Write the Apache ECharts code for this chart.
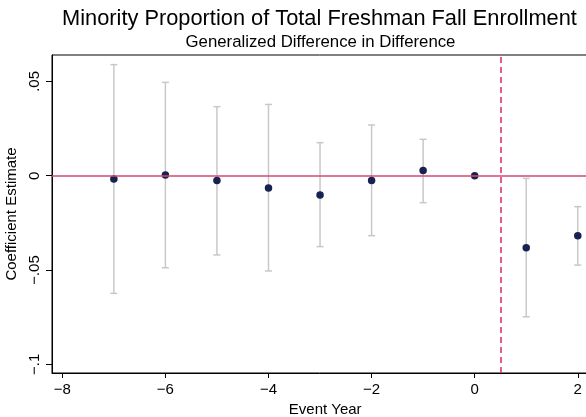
<!DOCTYPE html>
<html>
<head>
<meta charset="utf-8">
<script src="https://cdn.jsdelivr.net/npm/echarts@6/dist/echarts.min.js"></script>
<style>
html,body{margin:0;padding:0;background:#fff;}
#chart{width:586px;height:417px;}
</style>
</head>
<body>
<div id="chart"></div>
<script>
// ---- data ----
var eventYears = [-7, -6, -5, -4, -3, -2, -1, 0, 1, 2];
var coefEstimate = [-0.0018, 0.0004, -0.0026, -0.0065, -0.0102, -0.0025, 0.0027, 0.0, -0.0382, -0.0318];
var ciLower = [-0.0624, -0.0488, -0.0420, -0.0505, -0.0376, -0.0318, -0.0143, null, -0.0748, -0.0474];
var ciUpper = [0.0589, 0.0495, 0.0366, 0.0378, 0.0175, 0.0269, 0.0193, null, -0.0014, -0.0164];
var xTickValues = [-8, -6, -4, -2, 0, 2];
var yTickValues = [-0.1, -0.05, 0, 0.05];
var treatmentLine = 0.5;
var zeroLine = 0;

var titleText = 'Minority Proportion of Total Freshman Fall Enrollment';
var subtitleText = 'Generalized Difference in Difference';
var xName = 'Event Year';
var yName = 'Coefficient Estimate';

var FONT = '"Liberation Sans", Arial, Helvetica, sans-serif';

var pointData = eventYears.map(function (x, i) { return [x, coefEstimate[i]]; });
var ciData = [];
eventYears.forEach(function (x, i) {
  if (ciLower[i] !== null && ciUpper[i] !== null) ciData.push([x, ciLower[i], ciUpper[i]]);
});

function fmtX(v) { return v < 0 ? '\u2212' + Math.abs(v) : String(v); }
function fmtY(v) {
  if (v === 0) return '0';
  var s = String(Math.abs(v)).replace(/^0/, '');
  return (v < 0 ? '\u2212' : '') + s;
}

var chart = echarts.init(document.getElementById('chart'), null, {renderer: 'canvas'});
var option = {
  backgroundColor: '#ffffff',
  animation: false,
  title: [
    {text: titleText, left: 314.5, top: 2.5, textAlign: 'center',
     textStyle: {fontFamily: FONT, fontSize: 21.8, fontWeight: 'normal', color: '#000'}},
    {text: subtitleText, left: 315.5, top: 29, textAlign: 'center',
     textStyle: {fontFamily: FONT, fontSize: 16.8, fontWeight: 'normal', color: '#000'}}
  ],
  grid: {left: 52, top: 55, bottom: 44, right: -12.4, show: true,
         borderColor: '#000', borderWidth: 1, backgroundColor: '#fff',
         containLabel: false, outerBoundsMode: 'none'},
  xAxis: {
    type: 'value', min: -8.2, max: 2.4,
    name: xName, nameLocation: 'middle', nameGap: 29,
    nameTextStyle: {fontFamily: FONT, fontSize: 15, color: '#000'},
    axisLine: {show: true, onZero: false, lineStyle: {color: '#000', width: 1}},
    axisTick: {show: true, customValues: xTickValues, length: 5, lineStyle: {color: '#000'}},
    axisLabel: {customValues: xTickValues, formatter: fmtX, margin: 9,
                fontFamily: FONT, fontSize: 15, color: '#000'},
    splitLine: {show: false}
  },
  yAxis: {
    type: 'value', min: -0.1046, max: 0.064,
    name: yName, nameLocation: 'middle', nameGap: 25, nameRotate: 90,
    nameTextStyle: {fontFamily: FONT, fontSize: 15, color: '#000'},
    axisLine: {show: true, onZero: false, lineStyle: {color: '#000', width: 1}},
    axisTick: {show: true, customValues: yTickValues, length: 6, lineStyle: {color: '#000'}},
    axisLabel: {customValues: yTickValues, formatter: fmtY, rotate: 90, margin: 10,
                fontFamily: FONT, fontSize: 15, color: '#000'},
    splitLine: {show: false}
  },
  series: [
    {
      type: 'custom',
      name: 'CI',
      z: 2,
      data: ciData,
      renderItem: function (params, api) {
        var x = api.value(0);
        var lo = api.coord([x, api.value(1)]);
        var hi = api.coord([x, api.value(2)]);
        var cap = 3.5;
        var st = {stroke: '#c8c8c8', lineWidth: 1.5};
        return {
          type: 'group',
          children: [
            {type: 'line', shape: {x1: lo[0], y1: lo[1], x2: hi[0], y2: hi[1]}, style: st},
            {type: 'line', shape: {x1: lo[0] - cap, y1: lo[1], x2: lo[0] + cap, y2: lo[1]}, style: st},
            {type: 'line', shape: {x1: hi[0] - cap, y1: hi[1], x2: hi[0] + cap, y2: hi[1]}, style: st}
          ]
        };
      },
      markLine: {
        silent: true, symbol: 'none', label: {show: false},
        data: [
          {yAxis: zeroLine, lineStyle: {color: '#d44a6e', width: 1.6, type: 'solid'}},
          {xAxis: treatmentLine, lineStyle: {color: '#e3316a', width: 1.6, type: [6, 4]}}
        ]
      }
    },
    {
      type: 'scatter',
      name: 'Estimate',
      z: 3,
      data: pointData,
      symbol: 'circle',
      symbolSize: 7.5,
      itemStyle: {color: '#162250', opacity: 1}
    }
  ]
};
chart.setOption(option);
</script>
</body>
</html>
